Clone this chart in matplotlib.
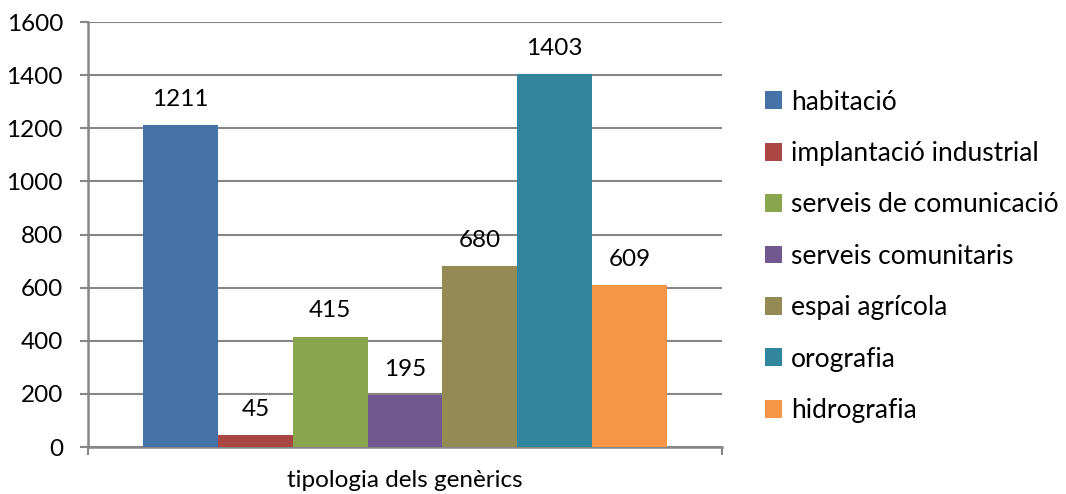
import matplotlib
matplotlib.use("Agg")
import matplotlib.pyplot as plt
import numpy as np

plt.rcParams['font.family'] = ['Lato', 'DejaVu Sans']

category = "tipologia dels genèrics"
series = ["habitació", "implantació industrial", "serveis de comunicació",
          "serveis comunitaris", "espai agrícola", "orografia", "hidrografia"]
values = [1211, 45, 415, 195, 680, 1403, 609]
colors = ["#4572A7", "#AA4643", "#89A54E", "#71588F", "#948A54", "#31859C", "#F79646"]
yticks = [0, 200, 400, 600, 800, 1000, 1200, 1400, 1600]

fig = plt.figure(figsize=(10.66, 4.94), dpi=100)
W, H = 1066, 494
ax = fig.add_axes([88 / W, 1 - 447 / H, (722 - 88) / W, (447 - 22) / H])

group_width = 0.826
bw = group_width / len(series)
grid_c = "#868686"

for i, (name, v, c) in enumerate(zip(series, values, colors)):
    x = -group_width / 2 + bw * (i + 0.5)
    ax.bar(x, v, width=bw, color=c, label=name, zorder=3, linewidth=0)
    ax.annotate(str(v), (x, v), xytext=(0, 11), textcoords="offset points",
                ha="center", va="bottom", fontsize=17.5, color="black")

ax.set_xlim(-0.5, 0.5)
ax.set_ylim(0, 1600)
ax.set_yticks(yticks)
ax.set_yticklabels([str(t) for t in yticks], fontsize=17.5)
ax.set_xticks([-0.5, 0.5])
ax.set_xticklabels(["", ""])
ax.tick_params(axis="both", direction="out", length=6, width=1.5, color=grid_c)
ax.tick_params(axis="y", pad=12)
ax.grid(axis="y", color=grid_c, linewidth=1.5, zorder=0)
for s in ["top", "right"]:
    ax.spines[s].set_visible(False)
for s in ["left", "bottom"]:
    ax.spines[s].set_color(grid_c)
    ax.spines[s].set_linewidth(1.8)

fig.text(405 / W, 1 - 480 / H, category, ha="center", va="center", fontsize=17.5)

leg = fig.legend(loc="upper left", bbox_to_anchor=(754 / W, 1 - 79 / H), frameon=False,
                 fontsize=19, handlelength=0.66, handleheight=0.66, handletextpad=0.35,
                 labelspacing=1.0, borderaxespad=0)

fig.savefig("out.png", dpi=100, facecolor="white")
